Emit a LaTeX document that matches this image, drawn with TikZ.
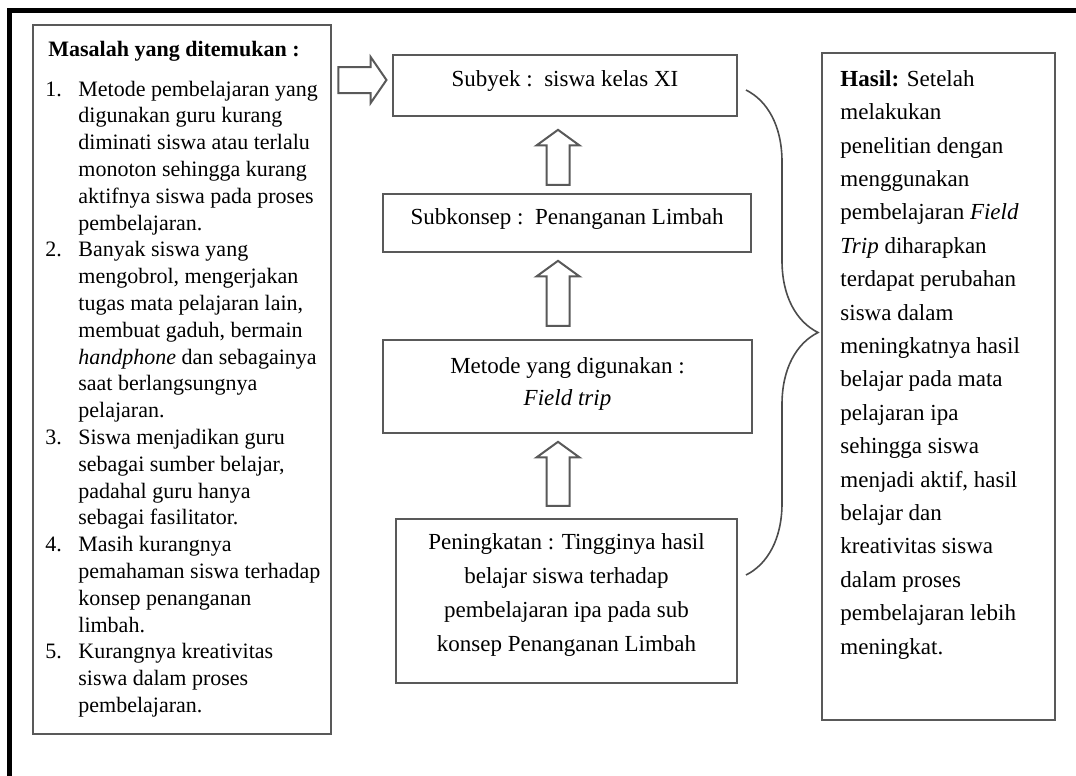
\documentclass[tikz,border=0pt]{standalone}
\usepackage{fontspec}
\setmainfont{Liberation Serif}
\usetikzlibrary{shapes.arrows,decorations.pathreplacing}
\tikzset{
	box/.style={draw=black!65, line width=1pt, fill=white, inner sep=0pt},
	boxtext/.style={align=center, inner sep=0pt, font=\fontsize{11.5}{17}\selectfont},
	sidetext/.style={align=left, inner sep=0pt, anchor=north west},
	blockarrow/.style={single arrow, draw=black!65, line width=1pt, fill=white, inner xsep=0pt, single arrow head extend=5pt},
	upblock/.style={blockarrow, rotate=90, inner ysep=5.25pt, minimum width=20.5pt, single arrow tip angle=108},
	curlybrace/.style={draw=black!70, line width=0.8pt, decorate, decoration={brace, amplitude=36pt}}
}

\begin{document}
\begin{tikzpicture}[x=0.5pt, y=-0.5pt]
		%%%%% START %%%%%
		\useasboundingbox (0, 0) rectangle (1076, 776);
		
		\draw[line width=2.5pt] (9.5, 776) -- (9.5, 10.5) -- (1076, 10.5);
		
		% problems found
		\node[box, minimum width=149pt, minimum height=354.5pt] (masalah) at (182, 379.5) {};
		\node[sidetext, font=\fontsize{11}{13.4}\selectfont] (masalahtxt) at (45, 37) {%
			\begin{tabular}{@{}p{16.5pt}@{}l@{}}
			\multicolumn{2}{@{\hspace{1.5pt}}l}{\bfseries Masalah yang ditemukan :}\\[6.6pt]
			1. & Metode pembelajaran yang\\
			   & digunakan guru kurang\\
			   & diminati siswa atau terlalu\\
			   & monoton sehingga kurang\\
			   & aktifnya siswa pada proses\\
			   & pembelajaran.\\
			2. & Banyak siswa yang\\
			   & mengobrol, mengerjakan\\
			   & tugas mata pelajaran lain,\\
			   & membuat gaduh, bermain\\
			   & \textit{handphone} dan sebagainya\\
			   & saat berlangsungnya\\
			   & pelajaran.\\
			3. & Siswa menjadikan guru\\
			   & sebagai sumber belajar,\\
			   & padahal guru hanya\\
			   & sebagai fasilitator.\\
			4. & Masih kurangnya\\
			   & pemahaman siswa terhadap\\
			   & konsep penanganan\\
			   & limbah.\\
			5. & Kurangnya kreativitas\\
			   & siswa dalam proses\\
			   & pembelajaran.
			\end{tabular}};
		
		% middle column
		\node[box, minimum width=172pt, minimum height=30.5pt] (subyek) at (565, 85.5) {};
		\node[boxtext] (subyektxt) at ([yshift=2pt]subyek.center) {Subyek :\ \ siswa kelas XI};
		
		\node[box, minimum width=184pt, minimum height=29pt] (subkonsep) at (567, 223) {};
		\node[boxtext] (subkonseptxt) at ([yshift=2pt]subkonsep.center) {Subkonsep :\ \ Penanganan Limbah};
		
		\node[box, minimum width=184.5pt, minimum height=46.5pt] (metode) at (567.5, 386.5) {};
		\node[boxtext, font=\fontsize{11.5}{16}\selectfont] (metodetxt) at ([yshift=1.5pt]metode.center) {Metode yang digunakan :\\ \textit{Field trip}};
		
		\node[box, minimum width=170.5pt, minimum height=82pt] (peningkatan) at (566.5, 601) {};
		\node[boxtext] (peningkatantxt) at ([yshift=3pt]peningkatan.center) {Peningkatan : Tingginya hasil\\ belajar siswa terhadap\\ pembelajaran ipa pada sub\\ konsep Penanganan Limbah};
		
		% hollow arrows
		\node[blockarrow, inner ysep=6pt, minimum height=24pt, minimum width=22pt, single arrow tip angle=111] (arrowin) at (358, 80) {};
		\node[upblock, minimum height=27.5pt] (arrowa) at (558, 161.5) {};
		\node[upblock, minimum height=32.5pt] (arrowb) at (558, 297.5) {};
		\node[upblock, minimum height=32pt] (arrowc) at (558, 478) {};
		
		% result
		\node[box, minimum width=116.5pt, minimum height=333.5pt] (hasil) at (938.5, 386.5) {};
		\node[sidetext, font=\fontsize{11.5}{16.7}\selectfont] (hasiltxt) at (840, 70) {%
			\textbf{Hasil:} Setelah\\
			melakukan\\
			penelitian dengan\\
			menggunakan\\
			pembelajaran \textit{Field}\\
			\textit{Trip} diharapkan\\
			terdapat perubahan\\
			siswa dalam\\
			meningkatnya hasil\\
			belajar pada mata\\
			pelajaran ipa\\
			sehingga siswa\\
			menjadi aktif, hasil\\
			belajar dan\\
			kreativitas siswa\\
			dalam proses\\
			pembelajaran lebih\\
			meningkat.};
		
		\draw[curlybrace] ([xshift=4pt, yshift=-2.25pt]subyek.east) -- ([xshift=4pt, yshift=13pt]peningkatan.east);
		
		%%%%% END %%%%%
	\end{tikzpicture}
\end{document}
